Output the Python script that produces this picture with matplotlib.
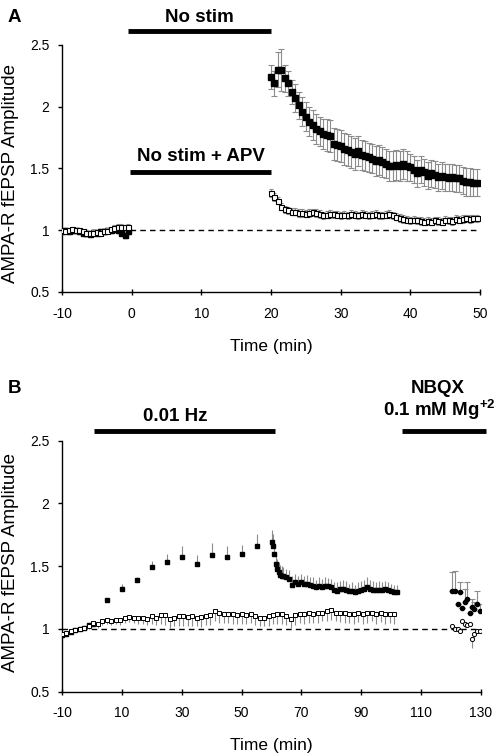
import numpy as np
import matplotlib
matplotlib.use('Agg')
import matplotlib.pyplot as plt

plt.rcParams['font.family'] = ['Liberation Sans', 'DejaVu Sans']
plt.rcParams['axes.unicode_minus'] = False
plt.rcParams['mathtext.fontset'] = 'custom'
plt.rcParams['mathtext.rm'] = 'Liberation Sans'
plt.rcParams['mathtext.bf'] = 'Liberation Sans:bold'

# ---- Panel A data ----
a_base_t = np.arange(-10, 0, 0.5)
a_base_ctrl = [0.99, 1.00, 0.99, 1.00, 1.00, 0.99, 0.98, 0.975, 0.97, 0.985,
               0.98, 0.99, 0.99, 1.00, 1.00, 1.01, 1.00, 0.98, 0.96, 0.99]
a_base_apv = [1.00, 0.99, 1.00, 1.01, 1.00, 1.00, 0.99, 0.98, 0.975, 0.98,
              0.985, 0.98, 0.99, 0.995, 1.01, 1.02, 1.03, 1.03, 1.025, 1.03]

a_post_t = np.arange(20, 50, 0.5)
a_post_ctrl = [2.24, 2.19, 2.30, 2.30, 2.23, 2.19, 2.12, 2.07, 2.01, 1.96,
               1.92, 1.88, 1.85, 1.82, 1.80, 1.78, 1.77, 1.76, 1.70, 1.69,
               1.68, 1.66, 1.65, 1.63, 1.62, 1.64, 1.61, 1.60, 1.59, 1.58,
               1.56, 1.57, 1.55, 1.54, 1.52, 1.52, 1.53, 1.52, 1.535, 1.52,
               1.51, 1.49, 1.46, 1.49, 1.47, 1.44, 1.46, 1.45, 1.43, 1.44,
               1.43, 1.425, 1.43, 1.42, 1.42, 1.40, 1.39, 1.39, 1.385, 1.385]
a_post_ctrl_err = [0.10, 0.10, 0.14, 0.17, 0.11, 0.10, 0.10, 0.11, 0.11, 0.12,
                   0.12, 0.12, 0.12, 0.12, 0.12, 0.12, 0.13, 0.13, 0.13, 0.13,
                   0.13, 0.13, 0.13, 0.13, 0.13, 0.12, 0.12, 0.12, 0.12, 0.12,
                   0.12, 0.12, 0.12, 0.12, 0.12, 0.12, 0.12, 0.12, 0.12, 0.12,
                   0.11, 0.11, 0.11, 0.11, 0.11, 0.11, 0.11, 0.11, 0.11, 0.11,
                   0.11, 0.11, 0.11, 0.11, 0.11, 0.11, 0.11, 0.11, 0.11, 0.11]
a_post_apv = [1.30, 1.27, 1.24, 1.19, 1.17, 1.16, 1.15, 1.15, 1.14, 1.14,
              1.135, 1.14, 1.145, 1.14, 1.13, 1.12, 1.125, 1.13, 1.128, 1.125,
              1.12, 1.125, 1.12, 1.13, 1.125, 1.12, 1.13, 1.125, 1.12, 1.125,
              1.13, 1.12, 1.12, 1.125, 1.13, 1.12, 1.11, 1.10, 1.09, 1.085,
              1.08, 1.085, 1.08, 1.075, 1.07, 1.075, 1.07, 1.08, 1.075, 1.07,
              1.085, 1.08, 1.075, 1.09, 1.085, 1.09, 1.095, 1.09, 1.095, 1.095]
a_post_apv_err = [0.03] * 60

# ---- Panel B data ----
b_open_t = np.arange(-10, 102, 1.5)
b_open = [0.96, 0.97, 0.98, 0.99, 1.00, 1.01, 1.02, 1.05, 1.04, 1.06,
          1.07, 1.06, 1.07, 1.07, 1.09, 1.095, 1.09, 1.085, 1.09, 1.08,
          1.10, 1.09, 1.11, 1.11, 1.075, 1.09, 1.10, 1.10, 1.095, 1.10,
          1.09, 1.095, 1.10, 1.11, 1.14, 1.13, 1.12, 1.115, 1.12, 1.11,
          1.12, 1.11, 1.115, 1.10, 1.09, 1.09, 1.10, 1.11, 1.115, 1.115,
          1.10, 1.08, 1.11, 1.12, 1.12, 1.13, 1.12, 1.125, 1.13, 1.14,
          1.15, 1.13, 1.125, 1.13, 1.12, 1.12, 1.125, 1.12, 1.13, 1.13,
          1.12, 1.125, 1.115, 1.12, 1.12]
b_open_err = [0.01, 0.01, 0.01, 0.01, 0.02, 0.02, 0.02, 0.02, 0.03, 0.03,
              0.03, 0.03, 0.03, 0.04, 0.04, 0.04, 0.04, 0.05, 0.05, 0.05,
              0.06, 0.06, 0.07, 0.08, 0.07, 0.07, 0.08, 0.08, 0.07, 0.08,
              0.07, 0.08, 0.07, 0.08, 0.08, 0.08, 0.07, 0.07, 0.08, 0.07,
              0.08, 0.07, 0.07, 0.07, 0.07, 0.07, 0.08, 0.07, 0.08, 0.08,
              0.07, 0.07, 0.08, 0.07, 0.08, 0.08, 0.07, 0.08, 0.07, 0.08,
              0.08, 0.07, 0.07, 0.08, 0.07, 0.08, 0.07, 0.08, 0.08, 0.07,
              0.08, 0.07, 0.08, 0.07, 0.08]

b_base_t = [-10, -8.5, -7, -5.5, -4, -2.5, -1, 0.5]
b_base = [0.95, 0.96, 0.975, 0.99, 1.00, 1.01, 1.03, 1.04]

b_sparse_t = [5, 10, 15, 20, 25, 30, 35, 40, 45, 50, 55]
b_sparse = [1.23, 1.32, 1.39, 1.49, 1.53, 1.57, 1.52, 1.59, 1.57, 1.595, 1.66]
b_sparse_err = [0.01, 0.035, 0.02, 0.05, 0.07, 0.09, 0.07, 0.095, 0.09, 0.07, 0.10]

b_post_t = [60, 60.5, 61, 61.5, 62, 62.5, 63, 63.5, 64, 65] + list(range(66, 103))
b_post = [1.69, 1.66, 1.60, 1.52, 1.48, 1.45, 1.43, 1.42, 1.42, 1.41,
          1.40, 1.35, 1.37, 1.36, 1.37, 1.36, 1.36, 1.35, 1.34, 1.33,
          1.34, 1.335, 1.34, 1.345, 1.33, 1.31, 1.30, 1.32, 1.32, 1.31,
          1.30, 1.30, 1.29, 1.30, 1.31, 1.32, 1.33, 1.32, 1.31, 1.31,
          1.31, 1.31, 1.315, 1.31, 1.30, 1.29, 1.29]
b_post_err = [0.10, 0.10, 0.09, 0.08, 0.08, 0.08, 0.08, 0.08, 0.07, 0.07,
              0.07, 0.07, 0.07, 0.06, 0.07, 0.06, 0.07, 0.06, 0.07, 0.06,
              0.07, 0.06, 0.07, 0.06, 0.07, 0.06, 0.07, 0.06, 0.07, 0.07,
              0.06, 0.07, 0.06, 0.07, 0.07, 0.07, 0.08, 0.07, 0.07, 0.06,
              0.07, 0.06, 0.07, 0.06, 0.06, 0.06, 0.06]

b_nbqx_t = [120.4, 121.3, 122.2, 123.0, 123.8, 124.6, 125.3, 126.2, 127.0, 127.8, 128.7, 129.6]
b_nbqx_ctrl = [1.30, 1.30, 1.20, 1.29, 1.165, 1.215, 1.24, 1.13, 1.175, 1.155, 1.20, 1.14]
b_nbqx_ctrl_err = [0.15, 0.16, 0.0, 0.085, 0.0, 0.1, 0.13, 0.0, 0.06, 0.06, 0.1, 0.06]
b_nbqx_apv = [1.02, 1.00, 0.995, 0.985, 1.06, 1.04, 1.03, 1.04, 0.92, 0.96, 0.98, 0.98]
b_nbqx_apv_err = [0.0, 0.02, 0.0, 0.02, 0.0, 0.03, 0.0, 0.02, 0.07, 0.03, 0.0, 0.0]

GREY = '#8c8c8c'

fig = plt.figure(figsize=(5, 7.56), dpi=100)
axA = fig.add_axes([0.124, 0.6138, 0.836, 0.3267])
axB = fig.add_axes([0.124, 0.0853, 0.838, 0.3317])


def style(ax, xlim, xticks):
    ax.set_xlim(*xlim)
    ax.set_ylim(0.5, 2.5)
    ax.set_xticks(xticks)
    ax.set_yticks([0.5, 1, 1.5, 2, 2.5])
    ax.set_yticklabels(['0.5', '1', '1.5', '2', '2.5'])
    for s in ['top', 'right']:
        ax.spines[s].set_visible(False)
    for s in ['left', 'bottom']:
        ax.spines[s].set_linewidth(1.0)
    ax.tick_params(axis='y', direction='out', length=3, width=1.0, labelsize=10, pad=6)
    ax.tick_params(axis='x', direction='inout', length=5, width=1.0, labelsize=10, pad=8)
    ax.axhline(1.0, color='black', lw=1.0, ls=(0, (4, 3)), zorder=1)
    ax.set_xlabel('Time (min)', fontsize=12.5, labelpad=13)


# ---- Panel A ----
style(axA, (-10, 50), [-10, 0, 10, 20, 30, 40, 50])
axA.errorbar(a_base_t, a_base_ctrl, yerr=0.02, fmt='s', color='black', ms=3.6,
             ecolor=GREY, elinewidth=0.8, capsize=1.5, zorder=3)
axA.errorbar(a_base_t, a_base_apv, yerr=0.02, fmt='s', mfc='white', mec='black',
             mew=0.8, ms=3.6, ecolor=GREY, elinewidth=0.8, capsize=1.5, zorder=4)
axA.errorbar(a_post_t, a_post_ctrl, yerr=a_post_ctrl_err, fmt='s', color='black',
             ms=3.8, ecolor=GREY, elinewidth=0.8, capsize=2.2, capthick=0.8, zorder=3)
axA.errorbar(a_post_t, a_post_apv, yerr=a_post_apv_err, fmt='s', mfc='white',
             mec='black', mew=0.8, ms=3.6, ecolor=GREY, elinewidth=0.8,
             capsize=1.5, capthick=0.8, zorder=4)

axA.plot([-0.5, 20], [2.613, 2.613], color='black', lw=3.5, clip_on=False,
         solid_capstyle='butt')
axA.text(9.7, 2.69, 'No stim', ha='center', va='baseline', fontsize=13.5,
         fontweight='bold', clip_on=False)
axA.plot([-0.3, 20], [1.474, 1.474], color='black', lw=3.5, clip_on=False,
         solid_capstyle='butt')
axA.text(9.9, 1.563, 'No stim + APV', ha='center', va='baseline', fontsize=13.5,
         fontweight='bold')

# ---- Panel B ----
style(axB, (-10, 130), [-10, 10, 30, 50, 70, 90, 110, 130])
axB.errorbar(b_open_t, b_open, yerr=[b_open_err, [0] * len(b_open_err)], fmt='none',
             ecolor=GREY, elinewidth=0.8, zorder=2)
axB.plot(b_open_t, b_open, 's', mfc='white', mec='black', mew=0.7, ms=3.0, zorder=4)
axB.plot(b_base_t, b_base, 's', color='black', ms=3.0, zorder=3)
axB.errorbar(b_sparse_t, b_sparse, yerr=[[0] * len(b_sparse_err), b_sparse_err],
             fmt='s', color='black', ms=3.2, ecolor=GREY, elinewidth=0.8, zorder=3)
axB.errorbar(b_post_t, b_post, yerr=[[0] * len(b_post_err), b_post_err],
             fmt='s', color='black', ms=3.2, ecolor=GREY, elinewidth=0.8, zorder=3)
axB.errorbar(b_nbqx_t, b_nbqx_ctrl, yerr=[[0] * len(b_nbqx_ctrl_err), b_nbqx_ctrl_err],
             fmt='o', color='black', ms=3.0, ecolor=GREY, elinewidth=0.8,
             capsize=2.2, capthick=0.8, zorder=3)
axB.errorbar(b_nbqx_t, b_nbqx_apv, yerr=[b_nbqx_apv_err, [0] * len(b_nbqx_apv_err)],
             fmt='o', mfc='white', mec='black', mew=0.7, ms=3.0, ecolor=GREY,
             elinewidth=0.8, zorder=4)

axB.plot([0.7, 61.3], [2.577, 2.577], color='black', lw=3.5, clip_on=False,
         solid_capstyle='butt')
axB.text(27.7, 2.66, '0.01 Hz', ha='center', va='baseline', fontsize=13.5,
         fontweight='bold', clip_on=False)
axB.plot([103.7, 131.7], [2.577, 2.577], color='black', lw=3.5, clip_on=False,
         solid_capstyle='butt')
axB.text(115.4, 2.878, 'NBQX', ha='center', va='baseline', fontsize=13.5,
         fontweight='bold', clip_on=False)
axB.text(116, 2.70, r'0.1 mM Mg$^{\mathbf{+2}}$', ha='center', va='baseline',
         fontsize=13.5, fontweight='bold', clip_on=False)

# labels
fig.text(0.022, 0.77, 'AMPA-R fEPSP Amplitude', rotation=90, ha='center',
         va='center', fontsize=13.5)
fig.text(0.022, 0.2566, 'AMPA-R fEPSP Amplitude', rotation=90, ha='center',
         va='center', fontsize=13.5)
fig.text(0.016, 1 - 21.7 / 756, 'A', fontsize=13.5, fontweight='bold', va='baseline')
fig.text(0.016, 1 - 392.7 / 756, 'B', fontsize=13.5, fontweight='bold', va='baseline')

fig.savefig('out.png', dpi=100)
plt.close(fig)
